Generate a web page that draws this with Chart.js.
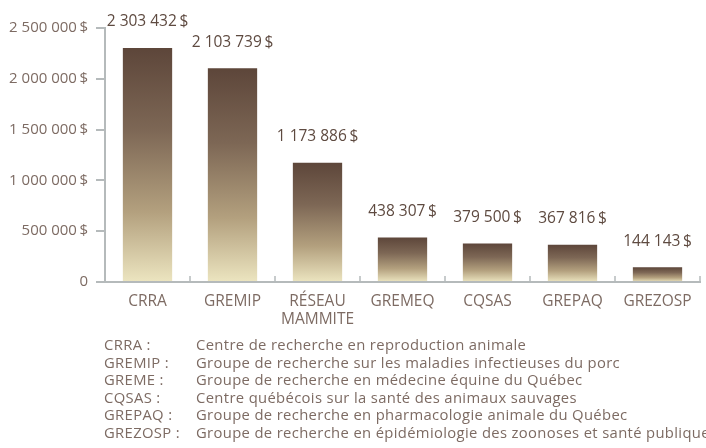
<!DOCTYPE html>
<html lang="fr">
<head>
  <meta charset="UTF-8" />
  <title>Financement des regroupements</title>
  <script src="https://cdn.jsdelivr.net/npm/chart.js"></script>
  <style>
    body { margin: 0; background: #fff; font-family: "Open Sans", sans-serif; }
    #wrap { position: relative; width: 706px; height: 448px; }
    #legende { position: absolute; left: 104px; top: 336px; color: #7d6b63; font-size: 14.8px; letter-spacing: 0.35px; line-height: 17.6px; white-space: nowrap; }
    #legende div span { display: inline-block; width: 92px; }
  </style>
</head>
<body>
  <div id="wrap">
    <canvas id="graphe" width="706" height="448"></canvas>
    <div id="legende"></div>
  </div>

  <script>
    // donnees
    const categories = ['CRRA', 'GREMIP', ['RÉSEAU', 'MAMMITE'], 'GREMEQ', 'CQSAS', 'GREPAQ', 'GREZOSP'];
    const montants = [2303432, 2103739, 1173886, 438307, 379500, 367816, 144143];
    const ticksY = [0, 500000, 1000000, 1500000, 2000000, 2500000];
    const sigles = ['CRRA :', 'GREMIP :', 'GREME :', 'CQSAS :', 'GREPAQ :', 'GREZOSP :'];
    const noms = [
      'Centre de recherche en reproduction animale',
      'Groupe de recherche sur les maladies infectieuses du porc',
      'Groupe de recherche en médecine équine du Québec',
      'Centre québécois sur la santé des animaux sauvages',
      'Groupe de recherche en pharmacologie animale du Québec',
      'Groupe de recherche en épidémiologie des zoonoses et santé publique'
    ];

    const legende = document.getElementById('legende');
    sigles.forEach((s, i) => {
      const d = document.createElement('div');
      d.innerHTML = '<span>' + s + '</span>' + noms[i];
      legende.appendChild(d);
    });

    function format(v) {
      if (v === 0) return '0';
      return String(v).replace(/\B(?=(\d{3})+(?!\d))/g, ' ') + '\u2009$';
    }

    // degrade pour chaque barre
    function degrade(context) {
      const chart = context.chart;
      if (!chart.chartArea || !context.parsed) return '#7b6553';
      const y = chart.scales.y;
      const haut = y.getPixelForValue(context.parsed.y);
      const bas = y.getPixelForValue(0);
      const g = chart.ctx.createLinearGradient(0, haut, 0, bas);
      g.addColorStop(0, '#5d463a');
      g.addColorStop(0.35, '#7d6755');
      g.addColorStop(0.7, '#b3a07e');
      g.addColorStop(1, '#ece5c0');
      return g;
    }

    const etiquettes = {
      id: 'etiquettes',
      afterDatasetsDraw(chart) {
        const ctx = chart.ctx;
        const meta = chart.getDatasetMeta(0);
        ctx.save();
        ctx.fillStyle = '#5e4a40';
        ctx.font = '15.5px "Open Sans"';
        ctx.textAlign = 'center';
        ctx.textBaseline = 'middle';
        meta.data.forEach((bar, i) => {
          ctx.fillText(format(montants[i]), bar.x, bar.y - 26);
        });
        // petites marques verticales sur l'axe x
        const x = chart.scales.x;
        const base = chart.scales.y.getPixelForValue(0);
        ctx.strokeStyle = '#b5babb';
        ctx.lineWidth = 1.5;
        for (let i = 0; i < categories.length; i++) {
          const px = i < categories.length - 1
            ? (x.getPixelForValue(i) + x.getPixelForValue(i + 1)) / 2
            : x.right;
          ctx.beginPath();
          ctx.moveTo(px, base);
          ctx.lineTo(px, base - 6);
          ctx.stroke();
        }
        ctx.restore();
      }
    };

    Chart.defaults.font.family = '"Open Sans", sans-serif';
    Chart.defaults.font.size = 15;
    Chart.defaults.color = '#7d6b63';

    new Chart(document.getElementById('graphe'), {
      type: 'bar',
      data: {
        labels: categories,
        datasets: [{
          data: montants,
          backgroundColor: degrade,
          barPercentage: 0.58,
          categoryPercentage: 1
        }]
      },
      options: {
        responsive: false,
        animation: false,
        layout: { padding: { top: 28, right: 6, bottom: 116, left: 0 } },
        plugins: { legend: { display: false }, tooltip: { enabled: false } },
        scales: {
          x: {
            afterFit: s => { s.height = 50; },
            grid: { drawOnChartArea: false, drawTicks: false },
            border: { color: '#b5babb', width: 2 },
            ticks: { padding: 10, color: '#7d6b63', font: { size: 15.5 } }
          },
          y: {
            min: 0,
            max: 2500000,
            afterFit: s => { s.width = 105; },
            afterBuildTicks: s => { s.ticks = ticksY.map(v => ({ value: v })); },
            grid: { drawOnChartArea: false, tickLength: 9, color: '#b5babb', lineWidth: 2 },
            border: { color: '#b5babb', width: 2 },
            ticks: { padding: 8, color: '#7d6b63', callback: v => format(v) }
          }
        }
      },
      plugins: [etiquettes]
    });
  </script>
</body>
</html>
